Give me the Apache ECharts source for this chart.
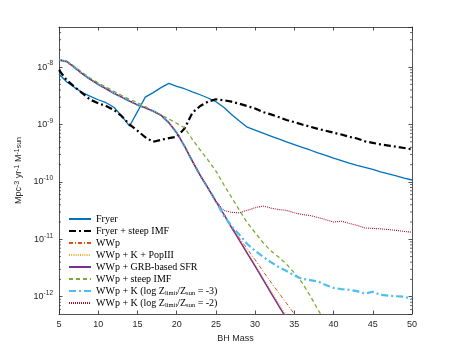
<!DOCTYPE html>
<html>
<head>
<meta charset="utf-8">
<script src="https://cdn.jsdelivr.net/npm/echarts@6/dist/echarts.min.js"></script>
<style>
  html, body { margin: 0; padding: 0; background: #fff; }
  #chart { width: 455px; height: 354px; }
</style>
</head>
<body>
<div id="chart"></div>
<script>
var dom = document.getElementById('chart');
var myChart = echarts.init(dom);

// BH mass grid
var masses = [5, 6, 7, 8, 9, 10, 11, 12, 13, 14, 15, 16, 17, 18, 19, 20, 21, 22, 23, 24, 25,
              26, 27, 28, 29, 30, 31, 32, 33, 34, 35, 36, 37, 38, 39, 40,
              41, 42, 43, 44, 45, 46, 47, 48, 49, 50];

var fryer = [7.6e-9, 5.5e-9, 4.4e-9, 3.6e-9, 3.1e-9, 2.7e-9, 2.4e-9, 2.0e-9, 1.4e-9, 9.4e-10,
             1.68e-9, 3.0e-9, 3.6e-9, 4.4e-9, 5.2e-9, 4.6e-9, 4.2e-9, 3.7e-9, 3.3e-9, 2.9e-9, 2.5e-9,
             2.0e-9, 1.5e-9, 1.15e-9, 9.0e-10, 8.0e-10, 7.1e-10, 6.3e-10, 5.6e-10, 5.0e-10, 4.45e-10,
             4.0e-10, 3.6e-10, 3.2e-10, 2.9e-10, 2.6e-10, 2.35e-10, 2.12e-10, 1.95e-10, 1.8e-10, 1.65e-10,
             1.5e-10, 1.38e-10, 1.27e-10, 1.17e-10, 1.08e-10];

var fryerSteep = [8.9e-9, 5.9e-9, 4.5e-9, 3.5e-9, 2.7e-9, 2.35e-9, 2.1e-9, 1.8e-9, 1.4e-9, 1.0e-9,
                  7.8e-10, 6.0e-10, 5.0e-10, 5.4e-10, 5.8e-10, 6.1e-10, 8.5e-10, 1.6e-9, 2.1e-9, 2.5e-9, 2.75e-9,
                  2.65e-9, 2.5e-9, 2.3e-9, 2.1e-9, 1.9e-9, 1.65e-9, 1.5e-9, 1.35e-9, 1.2e-9, 1.1e-9,
                  1.0e-9, 9.2e-10, 8.4e-10, 7.8e-10, 7.2e-10, 6.7e-10, 6.1e-10, 5.7e-10, 5.1e-10, 4.8e-10,
                  4.5e-10, 4.3e-10, 4.1e-10, 3.9e-10, 3.7e-10];

// shared WWp curve, masses 5..25
var wwpBase = [1.33e-8, 1.25e-8, 9.8e-9, 7.6e-9, 6.1e-9, 5.0e-9, 4.2e-9, 3.5e-9, 3.0e-9, 2.55e-9,
               2.2e-9, 1.95e-9, 1.72e-9, 1.45e-9, 1.08e-9, 7.2e-10, 4.2e-10, 2.3e-10, 1.3e-10, 7.8e-11, 4.6e-11];

// tails, masses 26..50
var wwpTail = [2.8e-11, 1.7e-11, 1.05e-11, 6.8e-12, 4.4e-12, 2.8e-12, 1.8e-12, 1.18e-12, 7.7e-13, 5.0e-13, 3.3e-13];
var popIIITail = [2.8e-11, 1.65e-11, 1.0e-11, 6.0e-12, 3.6e-12, 2.15e-12, 1.3e-12, 7.8e-13, 4.8e-13];
var grbTail = [2.75e-11, 1.6e-11, 9.6e-12, 5.7e-12, 3.4e-12, 2.0e-12, 1.18e-12, 7.0e-13, 4.2e-13];
var zm3Tail = [2.6e-11, 1.7e-11, 1.2e-11, 8.3e-12, 6.3e-12, 5.0e-12, 4.0e-12, 3.3e-12, 2.8e-12, 2.35e-12,
               2.05e-12, 1.95e-12, 1.85e-12, 1.6e-12, 1.42e-12, 1.36e-12, 1.32e-12, 1.25e-12, 1.13e-12, 1.22e-12,
               1.08e-12, 1.04e-12, 1.02e-12, 1.0e-12, 9.1e-13];
var zm2Tail = [3.2e-11, 2.95e-11, 2.9e-11, 3.2e-11, 3.55e-11, 3.8e-11, 3.5e-11, 3.3e-11, 3.2e-11, 2.9e-11,
               2.7e-11, 2.6e-11, 2.4e-11, 2.2e-11, 2.0e-11, 2.07e-11, 1.9e-11, 1.75e-11, 1.58e-11, 1.55e-11,
               1.52e-11, 1.48e-11, 1.43e-11, 1.37e-11, 1.33e-11];

var wwpSteep = [1.33e-8, 1.27e-8, 1.02e-8, 8.0e-9, 6.4e-9, 5.3e-9, 4.5e-9, 3.8e-9, 3.2e-9, 2.75e-9,
                2.4e-9, 2.05e-9, 1.72e-9, 1.45e-9, 1.25e-9, 1.05e-9, 8.8e-10, 5.5e-10, 3.6e-10, 2.4e-10, 1.55e-10,
                9.0e-11, 5.4e-11, 3.2e-11, 1.95e-11, 1.3e-11, 8.8e-12, 6.3e-12, 4.9e-12, 3.7e-12, 2.6e-12,
                1.75e-12, 1.05e-12, 6.0e-13, 3.5e-13];

var names = ['Fryer', 'Fryer + steep IMF', 'WWp', 'WWp + K + PopIII', 'WWp + GRB-based SFR',
             'WWp + steep IMF', 'WWp + K (log Z_limit/Z_sun = -3)', 'WWp + K (log Z_limit/Z_sun = -2)'];

function pairs(vals) {
    var out = [];
    for (var i = 0; i < vals.length; i++) out.push([masses[i], vals[i]]);
    return out;
}

// log-spaced minor ticks for the y axis (2..9 in each decade)
var minorTicks = [];
for (var e = -13; e <= -8; e++) {
    for (var k = 2; k <= 9; k++) {
        var v = k * Math.pow(10, e);
        if (v > 5e-13 && v < 5e-8) minorTicks.push([5, v]);
    }
}

var axisColor = '#262626';
var sansFont = 'Liberation Sans';

function lineSeries(name, vals, color, width, type) {
    return {
        name: name,
        type: 'line',
        data: pairs(vals),
        showSymbol: false,
        symbol: 'none',
        clip: true,
        lineStyle: { color: color, width: width, type: type },
        itemStyle: { color: color }
    };
}

var legendLabels = {
    'WWp + K (log Z_limit/Z_sun = -3)': 'WWp + K (log Z{sub|limit}/Z{sub|sun} = -3)',
    'WWp + K (log Z_limit/Z_sun = -2)': 'WWp + K (log Z{sub|limit}/Z{sub|sun} = -2)'
};

option = {
    animation: false,
    backgroundColor: '#fff',
    grid: { left: 59, right: 43, top: 27, bottom: 40 },
    legend: {
        orient: 'vertical',
        left: 63,
        top: 208,
        itemWidth: 22,
        itemHeight: 8,
        itemGap: 0,
        data: names,
        itemStyle: { opacity: 0 },
        formatter: function (name) { return legendLabels[name] || name; },
        textStyle: {
            fontFamily: 'Liberation Serif',
            fontSize: 10,
            lineHeight: 12,
            color: '#000',
            rich: {
                sub: { fontFamily: 'Liberation Serif', fontSize: 6.5, color: '#000', verticalAlign: 'bottom', lineHeight: 7 }
            }
        }
    },
    xAxis: [{
        type: 'value',
        min: 5, max: 50, interval: 5,
        name: 'BH Mass',
        nameLocation: 'middle',
        nameGap: 17,
        nameTextStyle: { fontFamily: sansFont, fontSize: 9, color: axisColor },
        axisLine: { onZero: false, lineStyle: { color: axisColor, width: 0.8 } },
        axisTick: { inside: true, length: 3.5, lineStyle: { color: axisColor, width: 0.8 } },
        axisLabel: { fontFamily: sansFont, fontSize: 9, color: axisColor, margin: 6 },
        splitLine: { show: false }
    }, {
        type: 'value', position: 'top',
        min: 5, max: 50, interval: 5,
        axisLine: { onZero: false, lineStyle: { color: axisColor, width: 0.8 } },
        axisTick: { inside: true, length: 3.5, lineStyle: { color: axisColor, width: 0.8 } },
        axisLabel: { show: false },
        splitLine: { show: false }
    }],
    yAxis: [{
        type: 'log',
        logBase: 10,
        min: 5e-13, max: 5e-8,
        name: 'Mpc{sup|-3} yr{sup|-1} M{sup|-1}{sub|sun}',
        nameLocation: 'middle',
        nameGap: 34,
        nameTextStyle: {
            fontFamily: sansFont, fontSize: 9, color: axisColor,
            rich: {
                sup: { fontFamily: sansFont, fontSize: 7, color: axisColor, verticalAlign: 'top', lineHeight: 8 },
                sub: { fontFamily: sansFont, fontSize: 7, color: axisColor, verticalAlign: 'bottom', lineHeight: 8 }
            }
        },
        axisLine: { lineStyle: { color: axisColor, width: 0.8 } },
        axisTick: { inside: true, length: 3.5, lineStyle: { color: axisColor, width: 0.8 } },
        axisLabel: {
            showMinLabel: false,
            showMaxLabel: false,
            margin: 6,
            formatter: function (value) {
                return '10{sup|' + Math.round(Math.log10(value)) + '}';
            },
            fontFamily: sansFont, fontSize: 9, color: axisColor, lineHeight: 14,
            rich: {
                sup: { fontFamily: sansFont, fontSize: 6.5, color: axisColor, verticalAlign: 'top', lineHeight: 9 }
            }
        },
        splitLine: { show: false }
    }, {
        type: 'log', position: 'right',
        logBase: 10,
        min: 5e-13, max: 5e-8,
        axisLine: { show: true, lineStyle: { color: axisColor, width: 0.8 } },
        axisTick: { inside: true, length: 3.5, lineStyle: { color: axisColor, width: 0.8 } },
        axisLabel: { show: false },
        splitLine: { show: false }
    }],
    series: [
        {
            type: 'custom',
            name: 'minor',
            silent: true,
            clip: false,
            data: minorTicks,
            renderItem: function (params, api) {
                var val = api.value(1);
                var l = api.coord([5, val]);
                var r = api.coord([50, val]);
                return {
                    type: 'group',
                    children: [
                        { type: 'line', shape: { x1: l[0], y1: l[1], x2: l[0] + 2, y2: l[1] }, style: { stroke: axisColor, lineWidth: 0.7 } },
                        { type: 'line', shape: { x1: r[0] - 2, y1: r[1], x2: r[0], y2: r[1] }, style: { stroke: axisColor, lineWidth: 0.7 } }
                    ]
                };
            }
        },
        lineSeries(names[0], fryer, '#0072BD', 1.3, 'solid'),
        lineSeries(names[1], fryerSteep, '#000000', 2.2, [7, 3, 2, 3]),
        lineSeries(names[2], wwpBase.concat(wwpTail), '#D95319', 1, [4, 2, 1, 2]),
        lineSeries(names[3], wwpBase.concat(popIIITail), '#EDB120', 1, [1, 1.2]),
        lineSeries(names[4], wwpBase.concat(grbTail), '#7E2F8E', 1.5, 'solid'),
        lineSeries(names[5], wwpSteep, '#77AC30', 1.3, [4, 3]),
        lineSeries(names[6], wwpBase.concat(zm3Tail), '#4DBEEE', 2.2, [7, 3, 2, 3]),
        lineSeries(names[7], wwpBase.concat(zm2Tail), '#A2142F', 1.1, [1, 1])
    ]
};

if (option && typeof option === 'object') {
    myChart.setOption(option, true);
}
</script>
</body>
</html>
